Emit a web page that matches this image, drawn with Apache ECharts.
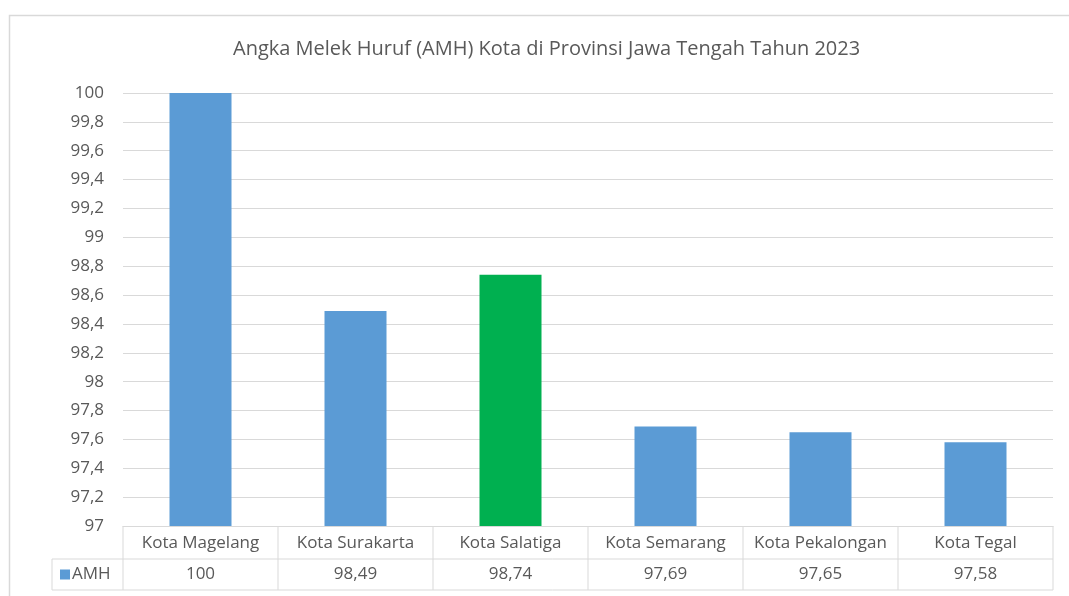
<!DOCTYPE html>
<html>
<head>
<meta charset="utf-8">
<script src="https://cdn.jsdelivr.net/npm/echarts@6/dist/echarts.min.js"></script>
<style>
  html, body { margin: 0; padding: 0; background: #fff; }
  #chart { width: 1069px; height: 596px; }
</style>
</head>
<body>
<div id="chart"></div>
<script>
  // data
  const categories = ['Kota Magelang', 'Kota Surakarta', 'Kota Salatiga', 'Kota Semarang', 'Kota Pekalongan', 'Kota Tegal']
  const amh = [100, 98.49, 98.74, 97.69, 97.65, 97.58]
  const barColors = ['#5B9BD5', '#5B9BD5', '#00B050', '#5B9BD5', '#5B9BD5', '#5B9BD5']
  const seriesName = 'AMH'

  const FONT = 'Open Sans'
  const TXT = '#595959'
  const LINE = '#d9d9d9'
  const FS = 17
  const fmt = v => String(+Number(v).toFixed(2)).replace('.', ',')

  const chart = echarts.init(document.getElementById('chart'))
  chart.setOption({
    animation: false,
    textStyle: { fontFamily: FONT },
    title: {
      text: 'Angka Melek Huruf (AMH) Kota di Provinsi Jawa Tengah Tahun 2023',
      left: 228,
      top: 34,
      textStyle: { fontSize: 20, fontWeight: 'normal', color: TXT, fontFamily: FONT }
    },
    grid: { left: 123, right: 16, top: 93, bottom: 70 },
    xAxis: {
      type: 'category',
      data: categories,
      axisTick: { show: false },
      axisLine: { lineStyle: { color: LINE } },
      axisLabel: { color: TXT, fontSize: FS, margin: 9, interval: 0, fontFamily: FONT }
    },
    yAxis: {
      type: 'value',
      min: 97,
      max: 100,
      interval: 0.2,
      axisLine: { show: false },
      axisTick: { show: false },
      splitLine: { lineStyle: { color: LINE } },
      axisLabel: { color: TXT, fontSize: FS, margin: 19, fontFamily: FONT, formatter: fmt }
    },
    series: [{
      name: seriesName,
      type: 'bar',
      barWidth: '40%',
      data: amh.map((v, i) => ({ value: v, itemStyle: { color: barColors[i] } }))
    }]
  })

  // data table below the axis (Excel style)
  function drawTable () {
    const yTop = chart.convertToPixel({ yAxisIndex: 0 }, 97)
    const c0 = chart.convertToPixel({ xAxisIndex: 0 }, 0)
    const c1 = chart.convertToPixel({ xAxisIndex: 0 }, 1)
    const bw = c1 - c0
    const xL = c0 - bw / 2
    const xR = xL + bw * categories.length
    const y1 = yTop + 33
    const y2 = y1 + 31
    const keyLeft = 52
    const font = FS + 'px "' + FONT + '"'
    const ls = { stroke: LINE, lineWidth: 1 }
    const els = []
    const hline = (x1, x2, y) => els.push({ type: 'line', shape: { x1, y1: y, x2, y2: y }, style: ls, silent: true })
    const vline = (x, ya, yb) => els.push({ type: 'line', shape: { x1: x, y1: ya, x2: x, y2: yb }, style: ls, silent: true })
    hline(keyLeft, xR, y1)
    hline(keyLeft, xR, y2)
    vline(keyLeft, y1, y2)
    for (let i = 0; i <= categories.length; i++) vline(xL + bw * i, yTop, y2)
    amh.forEach((v, i) => {
      els.push({
        type: 'text',
        x: chart.convertToPixel({ xAxisIndex: 0 }, i),
        y: (y1 + y2) / 2,
        style: { text: fmt(v), fill: TXT, font, align: 'center', verticalAlign: 'middle' },
        silent: true
      })
    })
    els.push({ type: 'rect', shape: { x: keyLeft + 8, y: (y1 + y2) / 2 - 5, width: 10, height: 10 }, style: { fill: barColors[0] }, silent: true })
    els.push({
      type: 'text',
      x: keyLeft + 20,
      y: (y1 + y2) / 2,
      style: { text: seriesName, fill: TXT, font, align: 'left', verticalAlign: 'middle' },
      silent: true
    })
    // outer chart frame
    els.push({ type: 'rect', shape: { x: 9.5, y: 15.5, width: 1080, height: 600 }, style: { fill: 'none', stroke: LINE, lineWidth: 1.5 }, silent: true })
    chart.setOption({ graphic: { elements: els } })
  }
  drawTable()
</script>
</body>
</html>
